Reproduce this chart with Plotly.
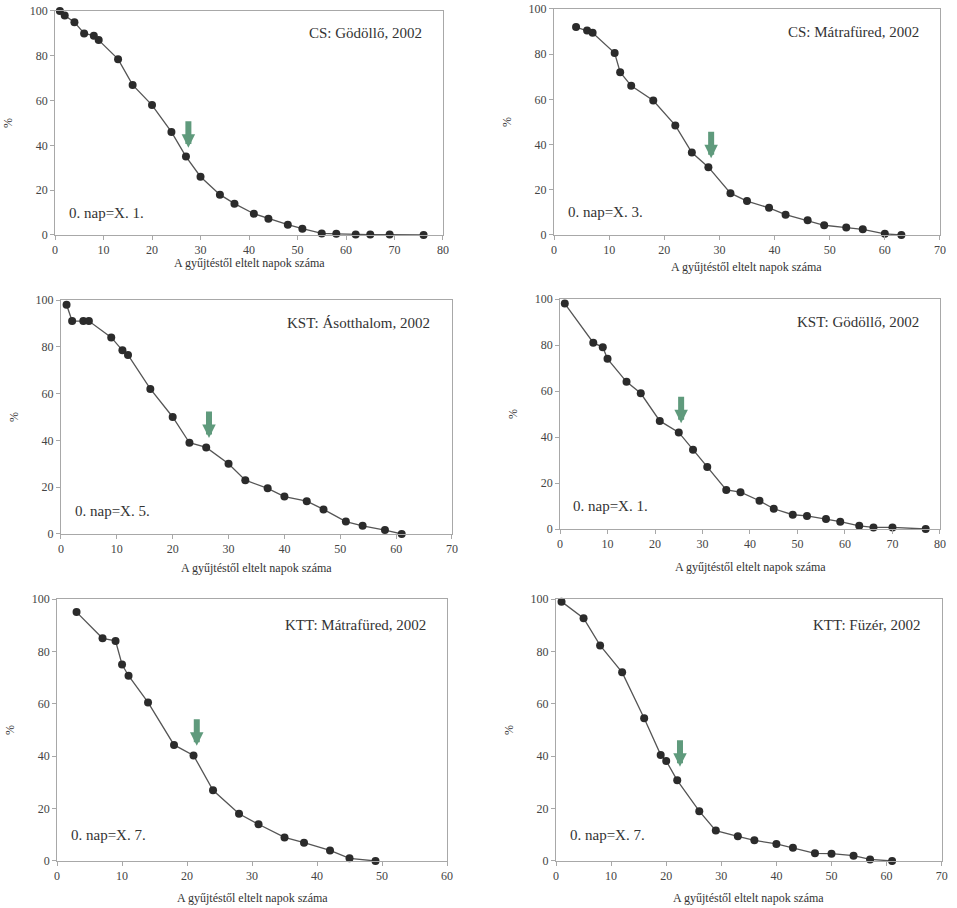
import plotly.graph_objects as go

# napok (x) es % (y) ertekek a hat abrarol
cs_godollo_x = [1, 2, 4, 6, 8, 9, 13, 16, 20, 24, 27, 30, 34, 37, 41, 44, 48, 51, 55, 58, 62, 65, 69, 76]
cs_godollo_y = [100, 98, 95, 90, 89, 87, 78.5, 67, 58, 46, 35, 26, 18, 14, 9.5, 7.3, 4.6, 2.8, 0.7, 0.5, 0.2, 0.2, 0.2, 0]

cs_matra_x = [4, 6, 7, 11, 12, 14, 18, 22, 25, 28, 32, 35, 39, 42, 46, 49, 53, 56, 60, 63]
cs_matra_y = [92, 90.5, 89.5, 80.5, 72, 66, 59.5, 48.5, 36.5, 30, 18.5, 15, 12, 9, 6.5, 4.3, 3.3, 2.5, 0.5, 0]

kst_asott_x = [1, 2, 4, 5, 9, 11, 12, 16, 20, 23, 26, 30, 33, 37, 40, 44, 47, 51, 54, 58, 61]
kst_asott_y = [98, 91, 91, 91, 84, 78.5, 76.5, 62, 50, 39, 37, 30, 23, 19.5, 16, 14, 10.5, 5.3, 3.5, 1.7, 0]

kst_godollo_x = [1, 7, 9, 10, 14, 17, 21, 25, 28, 31, 35, 38, 42, 45, 49, 52, 56, 59, 63, 66, 70, 77]
kst_godollo_y = [98, 81, 79, 74, 64, 59, 47, 42, 34.5, 27, 17, 16, 12.3, 8.8, 6.2, 5.7, 4.3, 3.2, 1.4, 0.7, 0.7, 0]

ktt_matra_x = [3, 7, 9, 10, 11, 14, 18, 21, 24, 28, 31, 35, 38, 42, 45, 49]
ktt_matra_y = [95, 85, 84, 75, 70.7, 60.5, 44.3, 40.3, 27, 18, 14, 9, 7, 4, 1, 0]

ktt_fuzer_x = [1, 5, 8, 12, 16, 19, 20, 22, 26, 29, 33, 36, 40, 43, 47, 50, 54, 57, 61]
ktt_fuzer_y = [99, 92.7, 82.3, 72, 54.5, 40.5, 38.2, 30.8, 19, 11.6, 9.4, 7.9, 6.5, 5, 2.9, 2.8, 2, 0.6, 0]

titles = ["CS: Gödöllő, 2002", "CS: Mátrafüred, 2002", "KST: Ásotthalom, 2002",
          "KST: Gödöllő, 2002", "KTT: Mátrafüred, 2002", "KTT: Füzér, 2002"]
start_days = ["0. nap=X. 1.", "0. nap=X. 3.", "0. nap=X. 5.", "0. nap=X. 1.", "0. nap=X. 7.", "0. nap=X. 7."]
x_max = [80, 70, 70, 80, 60, 70]
# zold nyil helye (x, nyil hegye y)
arrow_x = [27.5, 28.5, 26.5, 25.5, 21.5, 22.5]
arrow_y = [39, 34, 41, 46, 44, 36]

series = [(cs_godollo_x, cs_godollo_y), (cs_matra_x, cs_matra_y), (kst_asott_x, kst_asott_y),
          (kst_godollo_x, kst_godollo_y), (ktt_matra_x, ktt_matra_y), (ktt_fuzer_x, ktt_fuzer_y)]

x_domains = [[0.0575, 0.4629], [0.5789, 0.9822], [0.0637, 0.4723],
             [0.5852, 0.9822], [0.0596, 0.4671], [0.5810, 0.9840]]
y_domains = [[0.7412, 0.9879], [0.7412, 0.9901], [0.4119, 0.6696],
             [0.4174, 0.6707], [0.0518, 0.3403], [0.0518, 0.3403]]
# x tengely felirat tavolsaga a tengelytol (px)
xtitle_shift = [28, 32, 34, 38, 37, 37]

FONT = "Liberation Serif, DejaVu Serif, serif"
fig = go.Figure()

for i, (xs, ys) in enumerate(series):
    n = "" if i == 0 else str(i + 1)
    fig.add_trace(go.Scatter(
        x=xs, y=ys, mode="lines+markers", xaxis="x" + n, yaxis="y" + n,
        line=dict(color="#555555", width=1.3),
        marker=dict(color="#2b2b2b", size=8),
        cliponaxis=False, showlegend=False))

    axis_common = dict(showline=True, linecolor="#a8a8a8", linewidth=1, mirror=True,
                       showgrid=False, zeroline=False, ticks="outside", ticklen=4,
                       tickcolor="#a8a8a8", automargin=False,
                       tickfont=dict(family=FONT, size=12, color="#444444"))
    fig.layout["xaxis" + n] = dict(axis_common, domain=x_domains[i], range=[0, x_max[i]],
                                   dtick=10, anchor="y" + n)
    fig.layout["yaxis" + n] = dict(axis_common, domain=y_domains[i], range=[0, 100],
                                   dtick=20, anchor="x" + n,
                                   title=dict(text="%", font=dict(family=FONT, size=12, color="#333333"),
                                              standoff=14))

    fig.add_annotation(text="A gyűjtéstől eltelt napok száma",
                       xref="x" + n + " domain", yref="y" + n + " domain",
                       x=0.5, y=0, yshift=-xtitle_shift[i], xanchor="center", yanchor="middle",
                       showarrow=False, font=dict(family=FONT, size=12, color="#333333"))
    fig.add_annotation(text=titles[i], xref="x" + n + " domain", yref="y" + n + " domain",
                       x=0.95, y=0.9, xanchor="right", yanchor="middle", showarrow=False,
                       font=dict(family=FONT, size=15, color="#333333"))
    fig.add_annotation(text=start_days[i], xref="x" + n + " domain", yref="y" + n + " domain",
                       x=0.03, y=0.1, xanchor="left", yanchor="middle", showarrow=False,
                       font=dict(family=FONT, size=15, color="#333333"))
    fig.add_annotation(x=arrow_x[i], y=arrow_y[i], xref="x" + n, yref="y" + n,
                       ax=0, ay=-28, showarrow=True, arrowhead=2, arrowsize=0.45,
                       arrowwidth=6, arrowcolor="#5f9a7c", text="")

fig.update_layout(width=957, height=908, margin=dict(l=0, r=0, t=0, b=0, autoexpand=False),
                  paper_bgcolor="white", plot_bgcolor="white",
                  font=dict(family=FONT))

fig.write_html("out.html", config={"displayModeBar": False},
               post_script="document.body.style.margin='0';")
